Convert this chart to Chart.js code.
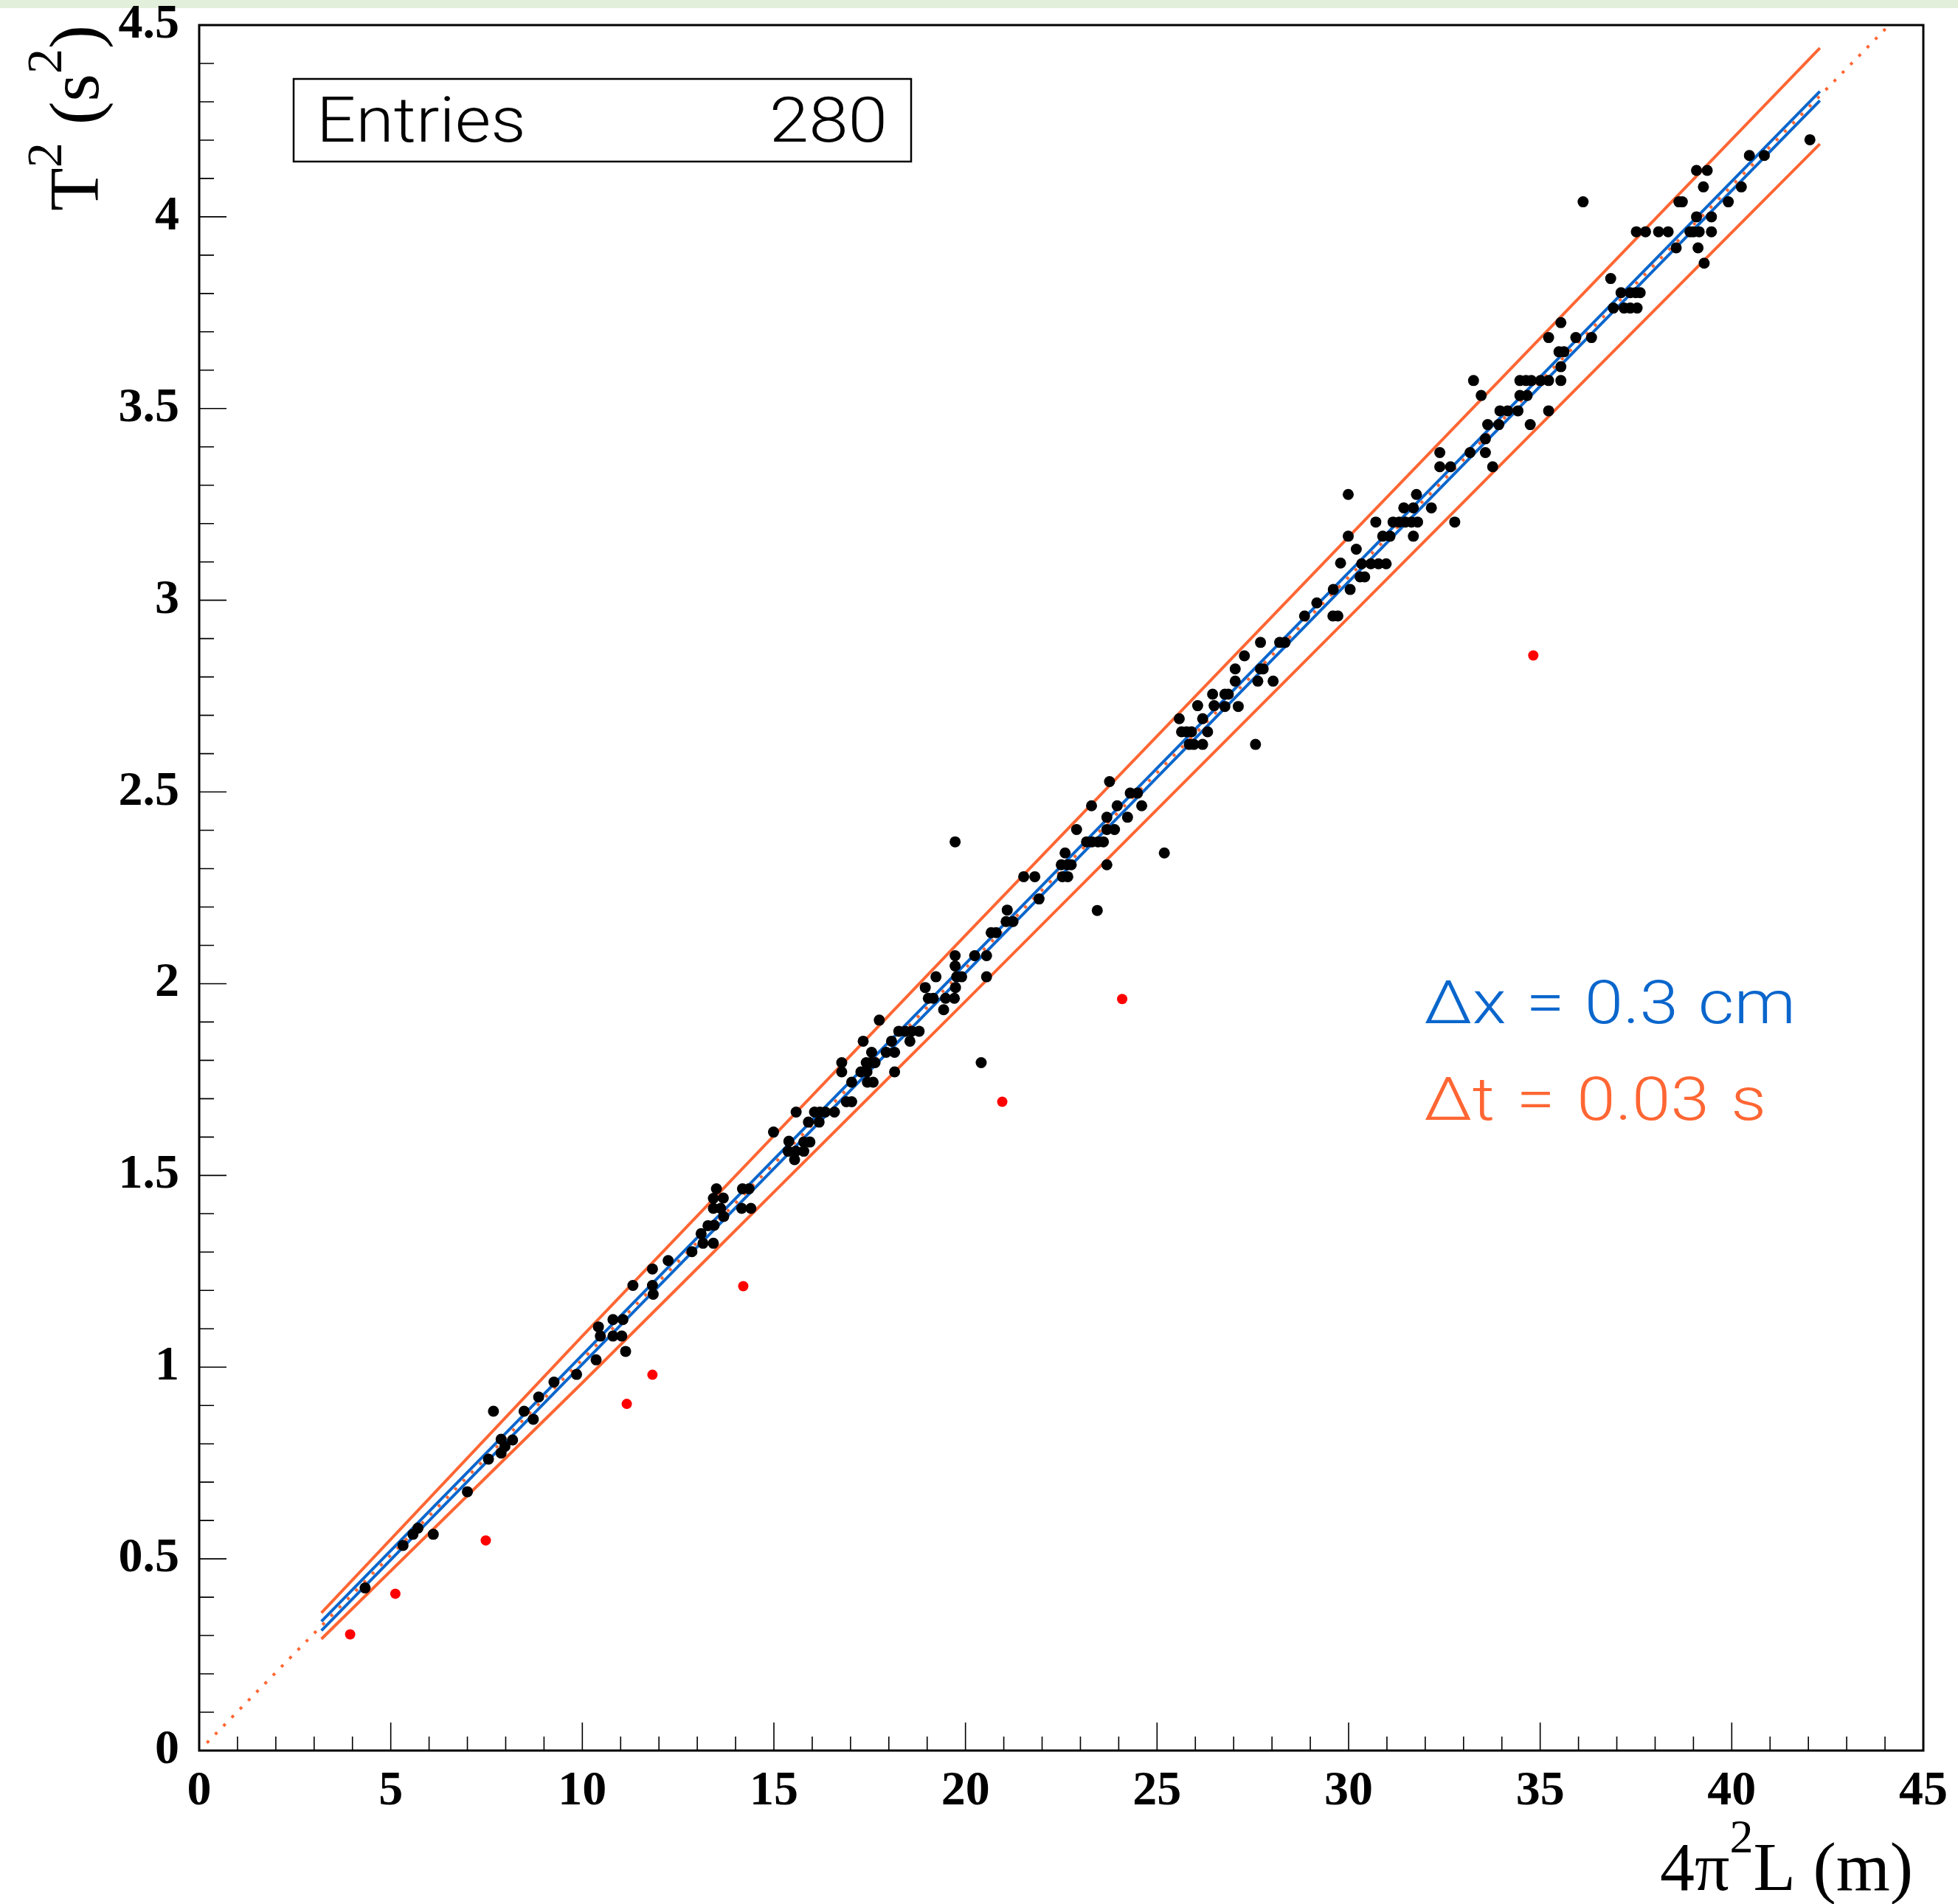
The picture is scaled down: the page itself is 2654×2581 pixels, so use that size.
<!DOCTYPE html>
<html>
<head>
<meta charset="utf-8">
<script src="https://cdn.jsdelivr.net/npm/chart.js@4.4.0/dist/chart.umd.min.js"></script>
<style>
  html, body { margin: 0; padding: 0; background: #fff; }
  canvas { display: block; }
</style>
</head>
<body>
<canvas id="chart" width="2654" height="2581"></canvas>
<script>
// tick labels
const xTicks = [0, 5, 10, 15, 20, 25, 30, 35, 40, 45];
const yTicks = [0, 0.5, 1, 1.5, 2, 2.5, 3, 3.5, 4, 4.5];

// measured points, 4pi^2 L (m) vs T^2 (s^2)
const blackL = [
  5.71, 5.58, 6.11, 5.32, 4.33,
  7.00, 7.55, 7.88, 7.98, 7.88, 8.18, 7.68, 8.48, 8.72, 8.86,
  9.26, 9.85, 10.36, 11.13, 10.42, 10.47, 10.80, 11.06, 10.80, 11.03,
  11.32, 11.83, 11.83, 11.85, 12.24, 12.86, 13.10, 13.15, 13.42, 13.28,
  13.44, 13.42, 13.68, 13.50, 13.42, 13.61, 13.69, 14.18, 14.35, 14.16, 14.40,
  14.99, 15.39, 15.37, 15.57, 15.78, 15.54, 15.78, 15.94, 15.58, 15.90,
  16.18, 16.06, 16.20, 16.34, 16.58, 16.89, 17.03, 17.03, 16.77, 16.77,
  17.27, 17.43, 17.41, 17.53, 17.64, 17.44, 17.59, 17.33, 17.55, 17.93,
  18.15, 18.07, 18.15, 17.75, 18.26, 18.43, 18.59, 18.79, 18.55, 19.43, 20.41,
  18.95, 19.03, 19.16, 19.23, 19.48, 19.71, 19.74, 19.77, 19.90, 19.73,
  19.73, 20.24, 20.55, 20.55, 20.67, 20.80, 21.09, 21.06, 21.24, 21.92,
  21.52, 21.81, 22.60, 22.50, 22.66, 22.76, 22.53, 22.67, 23.44, 23.69,
  22.90, 23.29, 23.16, 23.30, 23.46, 23.60, 23.69, 23.69, 23.89, 23.96,
  24.23, 24.30, 24.49, 24.60, 23.76, 25.19, 19.73,
  25.58, 25.64, 25.77, 25.90, 25.84, 25.96, 26.19, 26.06, 26.19, 26.32,
  26.45, 26.49, 26.77, 26.86, 26.77, 27.12, 27.57, 27.04, 27.04, 27.28,
  27.63, 27.70, 27.77, 28.03, 27.70, 28.20, 28.34, 28.85, 29.17, 29.59,
  29.72, 29.60, 30.04, 29.79, 30.20, 30.34, 30.58, 30.78, 30.98, 30.30,
  30.42, 29.99, 29.99, 30.71, 30.89, 31.08, 31.16, 31.32, 31.48, 31.64, 31.80, 31.69, 32.77,
  31.44, 31.69, 31.77, 32.16, 32.38, 32.38, 32.66, 33.17, 33.57, 33.57,
  33.76, 33.63, 33.92, 33.95, 34.15, 34.42, 34.74, 35.22, 33.26, 33.46,
  34.47, 34.66, 34.47, 34.63, 34.77, 35.01, 35.22, 35.54, 35.54, 35.49,
  35.62, 35.22, 35.54, 35.93, 36.34, 36.84, 36.91, 37.11, 37.19, 36.12,
  37.35, 37.49, 37.61, 37.35, 37.53, 37.51, 37.75, 38.09, 38.34, 38.55,
  38.91, 39.00, 39.15, 39.47, 39.12, 39.28, 39.08, 39.47, 38.62, 38.71,
  39.08, 39.36, 39.26, 39.91, 40.25, 40.46, 40.85, 42.04
];
const blackT2 = [
  0.580, 0.564, 0.564, 0.535, 0.424,
  0.675, 0.760, 0.812, 0.793, 0.776, 0.810, 0.885, 0.885, 0.864, 0.922,
  0.961, 0.981, 1.019, 1.041, 1.105, 1.081, 1.124, 1.124, 1.081, 1.081,
  1.213, 1.256, 1.213, 1.190, 1.278, 1.301, 1.348, 1.323, 1.323, 1.369,
  1.370, 1.440, 1.441, 1.465, 1.414, 1.414, 1.393, 1.465, 1.465, 1.414, 1.414,
  1.613, 1.589, 1.563, 1.563, 1.563, 1.541, 1.587, 1.587, 1.665, 1.639,
  1.639, 1.665, 1.665, 1.665, 1.665, 1.692, 1.692, 1.743, 1.794, 1.770,
  1.770, 1.770, 1.794, 1.794, 1.794, 1.743, 1.743, 1.850, 1.821, 1.821,
  1.821, 1.850, 1.770, 1.905, 1.876, 1.876, 1.876, 1.876, 1.850, 1.932, 1.794,
  1.990, 1.962, 1.962, 2.018, 1.962, 1.962, 1.990, 2.018, 2.018, 2.046,
  2.073, 2.073, 2.073, 2.018, 2.133, 2.133, 2.192, 2.162, 2.162, 2.221,
  2.279, 2.279, 2.341, 2.310, 2.310, 2.310, 2.279, 2.279, 2.191, 2.310,
  2.402, 2.464, 2.370, 2.370, 2.370, 2.370, 2.434, 2.402, 2.402, 2.464,
  2.434, 2.497, 2.497, 2.464, 2.527, 2.341, 2.370,
  2.691, 2.657, 2.657, 2.657, 2.624, 2.624, 2.624, 2.725, 2.691, 2.657,
  2.755, 2.725, 2.755, 2.755, 2.723, 2.723, 2.624, 2.789, 2.821, 2.855,
  2.789, 2.821, 2.821, 2.789, 2.890, 2.890, 2.890, 2.959, 2.993, 2.959,
  2.959, 3.028, 3.028, 3.097, 3.133, 3.095, 3.095, 3.095, 3.095, 3.061,
  3.061, 3.167, 3.276, 3.204, 3.167, 3.167, 3.204, 3.204, 3.204, 3.204, 3.204, 3.167, 3.204,
  3.241, 3.241, 3.276, 3.241, 3.385, 3.348, 3.348, 3.385, 3.421, 3.385,
  3.348, 3.458, 3.458, 3.494, 3.494, 3.494, 3.458, 3.494, 3.573, 3.534,
  3.534, 3.534, 3.573, 3.573, 3.573, 3.573, 3.573, 3.573, 3.609, 3.648,
  3.648, 3.685, 3.724, 3.685, 3.685, 3.839, 3.762, 3.802, 3.762, 4.039,
  3.802, 3.802, 3.802, 3.762, 3.762, 3.961, 3.961, 3.961, 3.961, 3.919,
  3.961, 3.961, 3.961, 3.961, 3.919, 3.879, 4.000, 4.000, 4.039, 4.039,
  4.121, 4.121, 4.078, 4.039, 4.078, 4.160, 4.160, 4.201
];

// rejected points
const redL  = [3.94, 5.12, 7.48, 11.16, 11.83, 14.20, 20.96, 24.09, 34.82];
const redT2 = [0.303, 0.409, 0.548, 0.904, 0.980, 1.211, 1.692, 1.960, 2.856];

// fit line (dotted) and uncertainty bands
const fitL = [0.2, 44.05];
const fitT2 = [0.02, 4.494];
const dtBandL = [3.19, 10, 20, 30, 42.3];
const dtUpper = [0.359, 1.081, 2.126, 3.165, 4.440];
const dtLower = [0.291, 0.959, 1.954, 2.955, 4.190];
const dxBandL = [3.19, 42.3];
const dxUpper = [0.337, 4.327];
const dxLower = [0.313, 4.303];

const entriesText = '280';
const dxLabel = 'Δx = 0.3 cm';
const dtLabel = 'Δt = 0.03 s';

const ORANGE = '#ff6633';
const BLUE = '#0a66cc';
const SERIF = '"Liberation Serif", "Times New Roman", serif';
const SANS = 'Roboto, "DejaVu Sans", sans-serif';

const pts = (xs, ys) => xs.map((x, i) => ({x: x, y: ys[i]}));
const lineDs = (xs, ys, color, width, dash) => ({
  data: pts(xs, ys), showLine: true, borderColor: color, borderWidth: width,
  borderDash: dash || [], borderCapStyle: 'butt', pointRadius: 0, fill: false, tension: 0
});

function drawPieces(ctx, pieces, x, y) {
  for (const p of pieces) {
    ctx.font = p.font;
    ctx.fillText(p.t, x, y - (p.rise || 0));
    x += ctx.measureText(p.t).width;
  }
}

// wide, slightly stretched sans text spread over a given width
function drawSpread(ctx, text, x, y, width, stretch) {
  ctx.save();
  ctx.translate(x, y);
  ctx.scale(stretch, 1);
  const words = text.split(' ');
  const widths = words.map(w => ctx.measureText(w).width);
  const inner = width / stretch;
  const gap = words.length > 1 ? (inner - widths.reduce((s, w) => s + w, 0)) / (words.length - 1) : 0;
  let cx = 0;
  words.forEach((w, i) => { ctx.fillText(w, cx, 0); cx += widths[i] + gap; });
  ctx.restore();
}

const frame = {
  id: 'frame',
  beforeDraw(chart) {
    const ctx = chart.ctx;
    ctx.save();
    ctx.fillStyle = '#fff';
    ctx.fillRect(0, 0, chart.width, chart.height);
    ctx.fillStyle = '#e2efda';
    ctx.fillRect(0, 0, chart.width, 11);
    ctx.restore();
  },
  afterDraw(chart) {
    const ctx = chart.ctx;
    const a = chart.chartArea;
    const sx = chart.scales.x, sy = chart.scales.y;
    ctx.save();
    // ticks pointing into the frame
    ctx.strokeStyle = '#000';
    ctx.lineWidth = 1.6;
    ctx.beginPath();
    for (let v = 1; v < 45; v++) {
      const px = sx.getPixelForValue(v);
      const len = v % 5 === 0 ? 38 : 19;
      ctx.moveTo(px, a.bottom);
      ctx.lineTo(px, a.bottom - len);
    }
    for (let i = 1; i < 45; i++) {
      const py = sy.getPixelForValue(i / 10);
      const len = i % 5 === 0 ? 37 : 20;
      ctx.moveTo(a.left, py);
      ctx.lineTo(a.left + len, py);
    }
    ctx.stroke();
    ctx.lineWidth = 3;
    ctx.strokeRect(a.left, a.top, a.right - a.left, a.bottom - a.top);

    // stats box
    ctx.lineWidth = 2.5;
    ctx.strokeRect(398, 107, 837, 112);
    ctx.fillStyle = '#000';
    ctx.font = '300 86px ' + SANS;
    ctx.textBaseline = 'alphabetic';
    ctx.textAlign = 'left';
    drawSpread(ctx, 'Entries', 429, 192, 0, 1.09);
    ctx.save();
    ctx.translate(1203, 192);
    ctx.scale(1.12, 1);
    ctx.textAlign = 'right';
    ctx.fillText(entriesText, 0, 0);
    ctx.restore();

    // uncertainty labels
    ctx.textAlign = 'left';
    ctx.font = '300 82px ' + SANS;
    ctx.fillStyle = BLUE;
    drawSpread(ctx, dxLabel, 1930, 1387, 504, 1.15);
    ctx.fillStyle = ORANGE;
    drawSpread(ctx, dtLabel, 1930, 1518, 464, 1.15);

    // axis titles
    ctx.fillStyle = '#000';
    const big = '96px ' + SERIF, small = '68px ' + SERIF;
    drawPieces(ctx, [
      {t: '4π', font: '94px ' + SERIF},
      {t: '2', font: '64px ' + SERIF, rise: 51},
      {t: 'L (m)', font: '94px ' + SERIF}
    ], 2250, 2562);
    ctx.translate(133, 286);
    ctx.rotate(-Math.PI / 2);
    drawPieces(ctx, [
      {t: 'T', font: big},
      {t: '2', font: small, rise: 50},
      {t: ' (s', font: big},
      {t: '2', font: small, rise: 50},
      {t: ')', font: big}
    ], 0, 0);
    ctx.restore();
  }
};

const tickFont = {family: SERIF, weight: 'bold', size: 66, lineHeight: 1};

new Chart(document.getElementById('chart'), {
  type: 'scatter',
  data: {
    datasets: [
      {data: pts(blackL, blackT2), backgroundColor: '#000', borderWidth: 0, pointRadius: 7.5},
      {data: pts(redL, redT2), backgroundColor: '#ff0000', borderWidth: 0, pointRadius: 7},
      lineDs(fitL, fitT2, ORANGE, 4, [4, 12]),
      lineDs(dxBandL, dxUpper, BLUE, 4),
      lineDs(dxBandL, dxLower, BLUE, 4),
      lineDs(dtBandL, dtUpper, ORANGE, 4),
      lineDs(dtBandL, dtLower, ORANGE, 4)
    ]
  },
  options: {
    responsive: false,
    animation: false,
    devicePixelRatio: 1,
    events: [],
    layout: {padding: {top: 34, right: 47, left: 0, bottom: 0}},
    plugins: {legend: {display: false}, tooltip: {enabled: false}},
    scales: {
      x: {
        type: 'linear', min: 0, max: 45,
        grid: {display: false}, border: {display: false},
        afterBuildTicks: s => { s.ticks = xTicks.map(v => ({value: v})); },
        afterFit: s => { s.height = 208; s.paddingLeft = 20; s.paddingRight = 20; },
        ticks: {font: tickFont, color: '#000', padding: 15, maxRotation: 0, autoSkip: false,
                callback: v => String(v)}
      },
      y: {
        type: 'linear', min: 0, max: 4.5,
        grid: {display: false}, border: {display: false},
        afterBuildTicks: s => { s.ticks = yTicks.map(v => ({value: v})); },
        afterFit: s => { s.width = 270; s.paddingTop = 20; s.paddingBottom = 20; },
        ticks: {font: tickFont, color: '#000', padding: 19, autoSkip: false,
                callback: v => String(v)}
      }
    }
  },
  plugins: [frame]
});
</script>
</body>
</html>
